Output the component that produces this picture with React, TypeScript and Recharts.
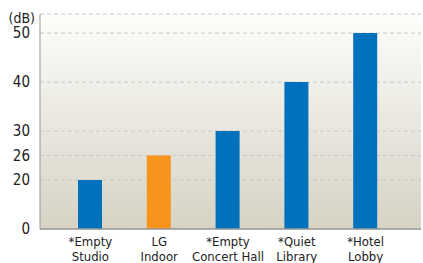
import { BarChart, Bar, XAxis, YAxis, CartesianGrid, Cell } from 'recharts';

const FONT = "'Liberation Sans Narrow', 'DejaVu Sans Condensed', 'Roboto', sans-serif";

const categories = ['*Empty\nStudio', 'LG\nIndoor', '*Empty\nConcert Hall', '*Quiet\nLibrary', '*Hotel\nLobby'];
const noiseDb = [20, 26, 30, 40, 50];
const barColors = ['#0071bc', '#f7941d', '#0071bc', '#0071bc', '#0071bc'];

// the axis is not linear: 0,20,30,40,50 are evenly spaced and 26 sits midway 20-30
const tickDb = [0, 20, 26, 30, 40, 50];
const tickSlot = [0, 1, 1.5, 2, 3, 4];

function dbToSlot(v: number) {
  for (let i = 1; i < tickDb.length; i++) {
    if (v <= tickDb[i]) {
      const t = (v - tickDb[i - 1]) / (tickDb[i] - tickDb[i - 1]);
      return tickSlot[i - 1] + t * (tickSlot[i] - tickSlot[i - 1]);
    }
  }
  return tickSlot[tickSlot.length - 1];
}

const data = categories.map((name, i) => ({ name, db: noiseDb[i], slot: dbToSlot(noiseDb[i]) }));

function CategoryTick({ x, y, payload }: any) {
  const lines = String(payload.value).split('\n');
  return (
    <text x={x} y={y} textAnchor="middle" fill="#222" fontSize={13} fontFamily={FONT}>
      {lines.map((l, i) => (
        <tspan key={i} x={x} dy={i === 0 ? 9 : 14.5}>{l}</tspan>
      ))}
    </text>
  );
}

export default function App() {
  return (
    <div style={{ position: 'absolute', left: 0, top: 0 }}>
      <BarChart width={423} height={263} data={data} margin={{ top: 14, right: 2, left: 0, bottom: 0 }}>
        <defs>
          <linearGradient id="plotBg" x1="0" y1="0" x2="0" y2="1">
            <stop offset="0%" stopColor="#fdfdfb" />
            <stop offset="100%" stopColor="#d6d3c4" />
          </linearGradient>
        </defs>
        <CartesianGrid vertical={false} stroke="#c8c8c8" strokeDasharray="4 3" fill="url(#plotBg)" fillOpacity={1} />
        <XAxis
          dataKey="name"
          height={34}
          padding={{ left: 16, right: 21 }}
          tickLine={false}
          axisLine={{ stroke: '#999', strokeWidth: 1.5 }}
          tick={<CategoryTick />}
          interval={0}
        />
        <XAxis xAxisId="top" dataKey="name" orientation="top" height={0} tick={false} tickLine={false} axisLine={{ stroke: '#aaa' }} />
        <YAxis
          width={40}
          domain={[0, 4.39]}
          ticks={tickSlot}
          tickFormatter={(v: number) => String(tickDb[tickSlot.indexOf(v)])}
          tickLine={false}
          axisLine={{ stroke: '#999' }}
          tick={{ fill: '#222', fontSize: 15, fontFamily: FONT }}
          tickMargin={4}
          allowDataOverflow
          label={{
            content: ({ viewBox }: any) => (
              <text x={viewBox.x + viewBox.width - 5} y={viewBox.y + 9} textAnchor="end" fill="#222" fontSize={14} fontFamily={FONT}>
                (dB)
              </text>
            ),
          }}
        />
        <YAxis yAxisId="right" orientation="right" width={0} tick={false} tickLine={false} axisLine={{ stroke: '#aaa' }} />
        <Bar dataKey="slot" barSize={24} isAnimationActive={false}>
          {data.map((d, i) => (
            <Cell key={d.name} fill={barColors[i]} />
          ))}
        </Bar>
      </BarChart>
    </div>
  );
}
